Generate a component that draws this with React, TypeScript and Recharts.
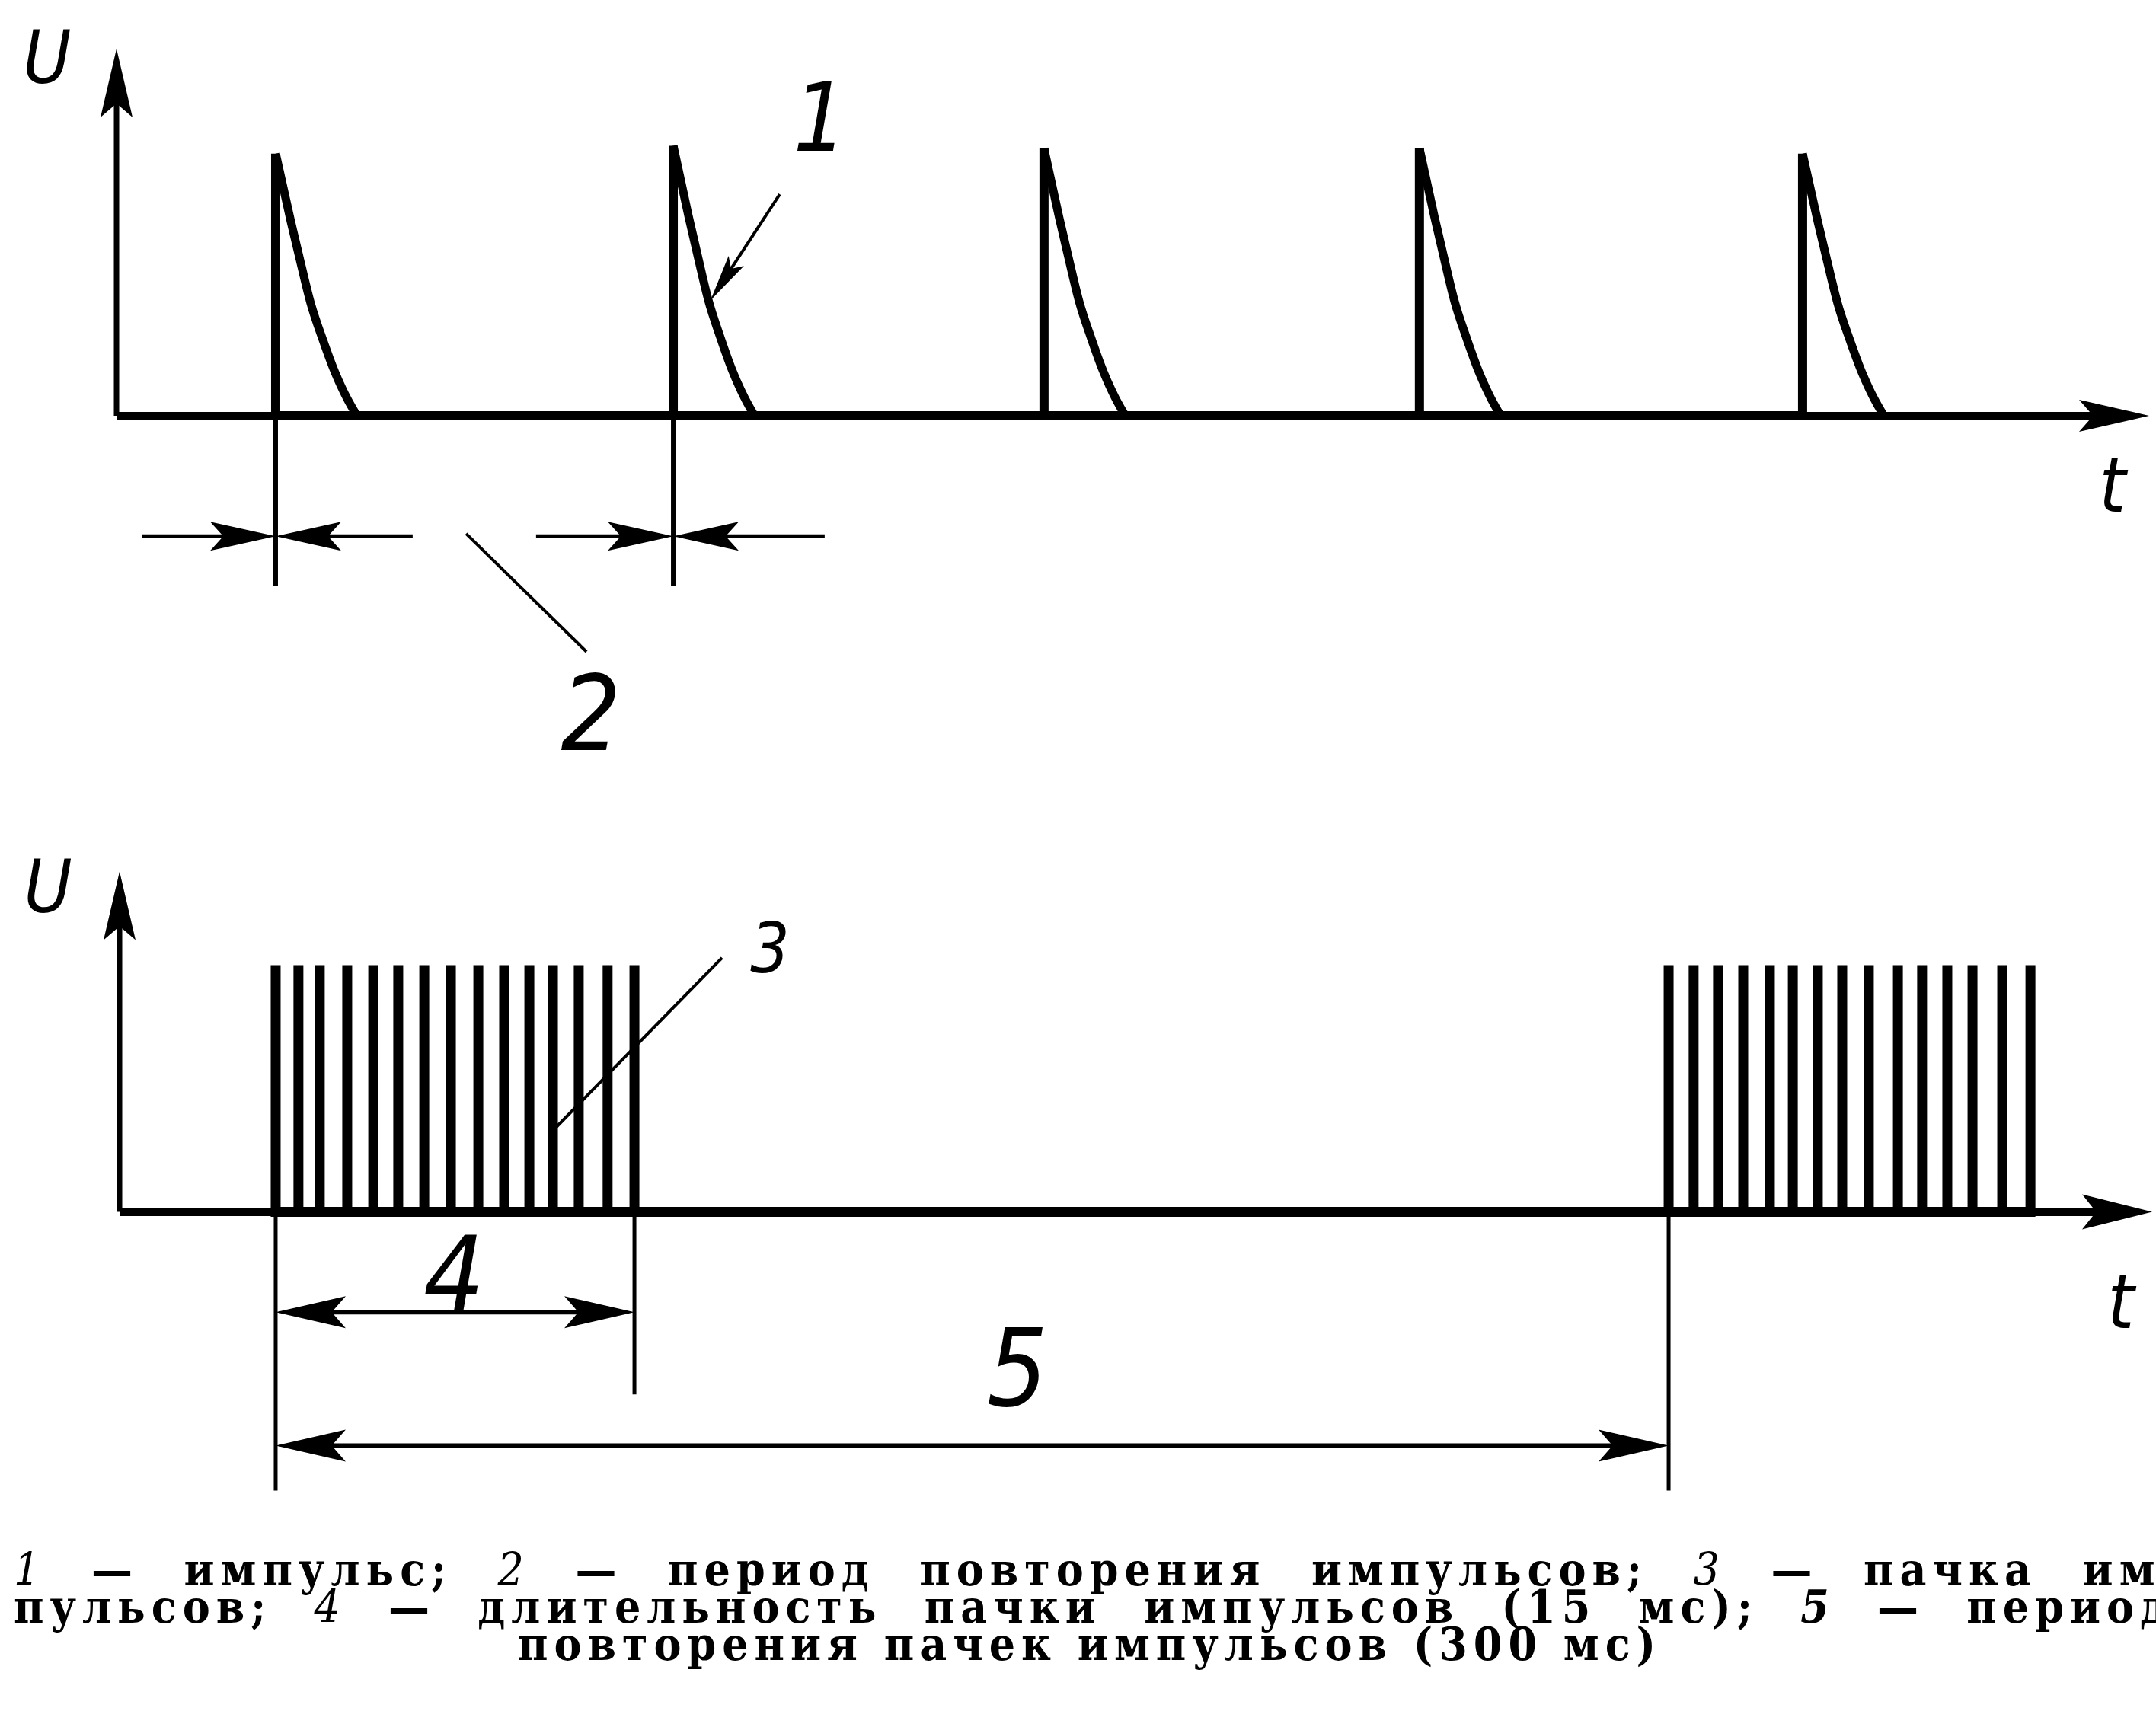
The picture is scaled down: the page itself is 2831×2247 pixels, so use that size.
import { Line, LineChart, ReferenceDot, ReferenceLine, XAxis, YAxis } from "recharts";

// top panel: single pulses (time in arbitrary units, voltage relative to pulse peak)
const pulseStarts = [7.83, 27.39, 45.63, 64.1, 82.95];
const pulsePeaks = [1.0, 1.03, 1.02, 1.02, 1.0];
const decayOffsets = [0, 0.75, 1.24, 1.72, 2.32, 2.92, 3.52, 4.0];
const decayLevels = [1, 0.74, 0.58, 0.43, 0.29, 0.165, 0.065, 0];

// "2" dimension: arrows come in from both sides of the first two pulses
const periodMarks = [7.83, 27.39];
const periodArrowFrom = [1.24, 20.64];
const periodArrowTo = [14.57, 34.84];
const periodArrowLevel = -0.46;
const periodExtLevel = -0.65;

// bottom panel: two bursts of 15 pulses
const burstOne = [7.68, 8.8, 9.85, 11.2, 12.48, 13.71, 14.99, 16.3, 17.65, 18.92, 20.16, 21.32, 22.59, 24.01, 25.33];
const burstTwo = [76.21, 77.44, 78.64, 79.88, 81.19, 82.32, 83.55, 84.75, 86.06, 87.49, 88.68, 89.92, 91.16, 92.62, 94.01];
const burstLevel = 1.0;
const burstDimLevel = -0.407;
const cycleDimLevel = -0.948;

const riseData = pulseStarts.flatMap((t, i) => [
  { t, u: 0 },
  { t, u: pulsePeaks[i] },
  { t, u: 0 },
]);

const decayData = pulseStarts.map((start, i) =>
  decayOffsets.map((off, j) => ({ t: start + off, u: pulsePeaks[i] * decayLevels[j] }))
);

const burstData = [...burstOne, ...burstTwo].flatMap((t) => [
  { t, u: 0 },
  { t, u: burstLevel },
  { t, u: 0 },
]);

const HAND = "'Liberation Sans Narrow', 'DejaVu Sans Condensed', 'Liberation Sans', sans-serif";
const SERIF = "'DejaVu Serif Condensed', 'DejaVu Serif', serif";

type Seg = { x1?: number; y1?: number; x2?: number; y2?: number };

function headPoints(x: number, y: number, ux: number, uy: number, len: number, half: number) {
  const nx = -uy;
  const ny = ux;
  const bx = x - ux * len;
  const by = y - uy * len;
  const mx = x - ux * len * 0.8;
  const my = y - uy * len * 0.8;
  return `${x},${y} ${bx + nx * half},${by + ny * half} ${mx},${my} ${bx - nx * half},${by - ny * half}`;
}

const arrow =
  (w: number, start = false, end = false, len = 86, half = 19) =>
  (p: Seg) => {
    const { x1 = 0, y1 = 0, x2 = 0, y2 = 0 } = p;
    const d = Math.hypot(x2 - x1, y2 - y1) || 1;
    const ux = (x2 - x1) / d;
    const uy = (y2 - y1) / d;
    const cut = len * 0.7;
    const sx = start ? x1 + ux * cut : x1;
    const sy = start ? y1 + uy * cut : y1;
    const ex = end ? x2 - ux * cut : x2;
    const ey = end ? y2 - uy * cut : y2;
    return (
      <g>
        <line x1={sx} y1={sy} x2={ex} y2={ey} stroke="#000" strokeWidth={w} />
        {end && <polygon points={headPoints(x2, y2, ux, uy, len, half)} fill="#000" />}
        {start && <polygon points={headPoints(x1, y1, -ux, -uy, len, half)} fill="#000" />}
      </g>
    );
  };

const note = (text: string, size: number) => (p: { cx?: number; cy?: number }) => (
  <text
    x={p.cx}
    y={(p.cy ?? 0) + size * 0.36}
    textAnchor="middle"
    fontFamily={HAND}
    fontStyle="italic"
    fontSize={size}
    fill="#000"
  >
    {text}
  </text>
);

function TopPanel() {
  return (
    <LineChart width={2831} height={1030} margin={{ top: 64, right: 9, bottom: 2, left: 153 }}>
      <XAxis type="number" dataKey="t" domain={[0, 100]} allowDataOverflow hide />
      <YAxis type="number" domain={[-1.4, 1.4]} allowDataOverflow hide />
      <ReferenceLine segment={[{ x: 0, y: 0 }, { x: 0, y: 1.4 }]} ifOverflow="visible" shape={arrow(7, false, true, 90, 21)} />
      <ReferenceLine segment={[{ x: 0, y: 0 }, { x: 100, y: 0 }]} ifOverflow="visible" shape={arrow(10, false, true, 92, 21)} />
      {periodMarks.map((t) => (
        <ReferenceLine key={`e${t}`} segment={[{ x: t, y: 0 }, { x: t, y: periodExtLevel }]} ifOverflow="visible" shape={arrow(6)} />
      ))}
      {periodMarks.map((t, i) => (
        <ReferenceLine
          key={`l${t}`}
          segment={[{ x: periodArrowFrom[i], y: periodArrowLevel }, { x: t, y: periodArrowLevel }]}
          ifOverflow="visible"
          shape={arrow(5, false, true)}
        />
      ))}
      {periodMarks.map((t, i) => (
        <ReferenceLine
          key={`r${t}`}
          segment={[{ x: periodArrowTo[i], y: periodArrowLevel }, { x: t, y: periodArrowLevel }]}
          ifOverflow="visible"
          shape={arrow(5, false, true)}
        />
      ))}
      <ReferenceLine segment={[{ x: 32.63, y: 0.845 }, { x: 29.22, y: 0.44 }]} ifOverflow="visible" shape={arrow(4, false, true, 62, 12)} />
      <ReferenceLine segment={[{ x: 17.2, y: -0.45 }, { x: 23.12, y: -0.9 }]} ifOverflow="visible" shape={arrow(4)} />
      <Line
        data={riseData}
        type="linear"
        dataKey="u"
        stroke="#000"
        strokeWidth={12}
        dot={false}
        activeDot={false}
        isAnimationActive={false}
      />
      {decayData.map((d, i) => (
        <Line
          key={`d${i}`}
          data={d}
          type="monotoneX"
          dataKey="u"
          stroke="#000"
          strokeWidth={11}
          dot={false}
          activeDot={false}
          isAnimationActive={false}
        />
      ))}
      <ReferenceDot x={-3.41} y={1.37} r={0} ifOverflow="visible" shape={note("U", 96)} />
      <ReferenceDot x={34.62} y={1.14} r={0} ifOverflow="visible" shape={note("1", 124)} />
      <ReferenceDot x={23.34} y={-1.13} r={0} ifOverflow="visible" shape={note("2", 138)} />
      <ReferenceDot x={98.2} y={-0.26} r={0} ifOverflow="visible" shape={note("t", 100)} />
    </LineChart>
  );
}

function BottomPanel() {
  const first = burstOne[0];
  const last = burstOne[burstOne.length - 1];
  const next = burstTwo[0];
  return (
    <LineChart width={2831} height={1005} data={burstData} margin={{ top: 98, right: 5, bottom: 0, left: 157 }}>
      <XAxis type="number" dataKey="t" domain={[0, 100]} allowDataOverflow hide />
      <YAxis type="number" domain={[-1.4, 1.4]} allowDataOverflow hide />
      <ReferenceLine segment={[{ x: 0, y: 0 }, { x: 0, y: 1.38 }]} ifOverflow="visible" shape={arrow(7, false, true, 90, 21)} />
      <ReferenceLine segment={[{ x: 0, y: 0 }, { x: 100, y: 0 }]} ifOverflow="visible" shape={arrow(11, false, true, 92, 23)} />
      <ReferenceLine segment={[{ x: first, y: 0 }, { x: first, y: -1.13 }]} ifOverflow="visible" shape={arrow(5)} />
      <ReferenceLine segment={[{ x: last, y: 0 }, { x: last, y: -0.74 }]} ifOverflow="visible" shape={arrow(5)} />
      <ReferenceLine segment={[{ x: next, y: 0 }, { x: next, y: -1.13 }]} ifOverflow="visible" shape={arrow(5)} />
      <ReferenceLine
        segment={[{ x: first, y: burstDimLevel }, { x: last, y: burstDimLevel }]}
        ifOverflow="visible"
        shape={arrow(6, true, true, 92, 21)}
      />
      <ReferenceLine
        segment={[{ x: first, y: cycleDimLevel }, { x: next, y: cycleDimLevel }]}
        ifOverflow="visible"
        shape={arrow(6, true, true, 92, 21)}
      />
      <ReferenceLine segment={[{ x: 29.64, y: 1.03 }, { x: 21.5, y: 0.345 }]} ifOverflow="visible" shape={arrow(4)} />
      <Line
        type="linear"
        dataKey="u"
        stroke="#000"
        strokeWidth={13}
        dot={false}
        activeDot={false}
        isAnimationActive={false}
      />
      <ReferenceDot x={-3.52} y={1.32} r={0} ifOverflow="visible" shape={note("U", 96)} />
      <ReferenceDot x={32.0} y={1.07} r={0} ifOverflow="visible" shape={note("3", 90)} />
      <ReferenceDot x={16.45} y={-0.253} r={0} ifOverflow="visible" shape={note("4", 140)} />
      <ReferenceDot x={44.17} y={-0.63} r={0} ifOverflow="visible" shape={note("5", 140)} />
      <ReferenceDot x={98.46} y={-0.36} r={0} ifOverflow="visible" shape={note("t", 100)} />
    </LineChart>
  );
}

const captionLines = [
  ["1", "—", "импульс;", "2", "—", "период", "повторения", "импульсов;", "3", "—", "пачка", "им-"],
  ["пульсов;", "4", "—", "длительность", "пачки", "импульсов", "(15", "мс);", "5", "—", "период"],
];
const captionTail = "повторения пачек импульсов (300 мс)";

function Word({ w }: { w: string }) {
  const digit = /^\d$/.test(w);
  return (
    <span
      style={{
        fontStyle: digit ? "italic" : "normal",
        fontWeight: w === "5" || !digit ? 700 : 400,
      }}
    >
      {w}
    </span>
  );
}

export default function App() {
  const captionBase = {
    position: "absolute" as const,
    height: 48,
    lineHeight: "48px",
    fontFamily: SERIF,
    fontStretch: "condensed",
    fontSize: 60,
    letterSpacing: "8px",
    whiteSpace: "nowrap" as const,
    color: "#000",
  };
  return (
    <div
      style={{
        position: "absolute",
        left: 0,
        top: 0,
        width: 2831,
        height: 2247,
        background: "#fff",
        overflow: "hidden",
      }}
    >
      <div style={{ position: "absolute", left: 0, top: 0 }}>
        <TopPanel />
      </div>
      <div style={{ position: "absolute", left: 0, top: 1040 }}>
        <BottomPanel />
      </div>
      <div style={{ ...captionBase, top: 2037, left: 18, width: 2850, display: "flex", justifyContent: "space-between" }}>
        {captionLines[0].map((w, i) => (
          <Word key={i} w={w} />
        ))}
      </div>
      <div style={{ ...captionBase, top: 2086, left: 18, width: 2836, display: "flex", justifyContent: "space-between" }}>
        {captionLines[1].map((w, i) => (
          <Word key={i} w={w} />
        ))}
      </div>
      <div style={{ ...captionBase, top: 2135, left: 660, width: 1542, textAlign: "center", fontWeight: 700 }}>
        {captionTail}
      </div>
    </div>
  );
}
